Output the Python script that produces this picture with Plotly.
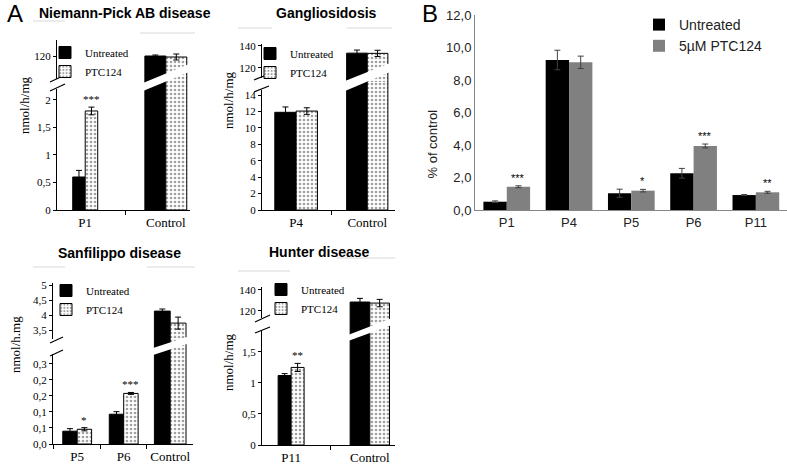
import plotly.graph_objects as go

W, H = 787, 464

# ---------------- data ----------------
# Panel A1: Niemann-Pick AB disease (nmol/h/mg)
np_cats = ["P1", "Control"]
np_untreated = [0.6, 120.0]
np_untreated_err = [0.12, 0.5]
np_ptc = [1.8, 119.5]
np_ptc_err = [0.07, 1.5]
np_stars = ["***", ""]
np_lower_ticks = [0, 0.5, 1, 1.5, 2]
np_lower_text = ["0", "0,5", "1", "1,5", "2"]
np_upper_ticks = [120]
np_upper_text = ["120"]

# Panel A2: Gangliosidosis (nmol/h/mg)
ga_cats = ["P4", "Control"]
ga_untreated = [11.9, 133.5]
ga_untreated_err = [0.65, 2.8]
ga_ptc = [12.05, 133.3]
ga_ptc_err = [0.4, 2.8]
ga_stars = ["", ""]
ga_lower_ticks = [0, 2, 4, 6, 8, 10, 12, 14]
ga_lower_text = ["0", "2", "4", "6", "8", "10", "12", "14"]
ga_upper_ticks = [120, 140]
ga_upper_text = ["120", "140"]

# Panel A3: Sanfilippo disease (nmol/h.mg)
sf_cats = ["P5", "P6", "Control"]
sf_untreated = [0.04, 0.093, 4.13]
sf_untreated_err = [0.008, 0.008, 0.07]
sf_ptc = [0.046, 0.158, 3.73]
sf_ptc_err = [0.005, 0.003, 0.2]
sf_stars = ["*", "***", ""]
sf_lower_ticks = [0, 0.05, 0.10, 0.15, 0.20, 0.25]
sf_lower_text = ["0,0", "0,1", "0,1", "0,2", "0,2", "0,3"]
sf_upper_ticks = [3.5, 4, 4.5, 5]
sf_upper_text = ["3,5", "4", "4,5", "5"]

# Panel A4: Hunter disease (nmol/h/mg)
hu_cats = ["P11", "Control"]
hu_untreated = [1.12, 128.5]
hu_untreated_err = [0.03, 3.5]
hu_ptc = [1.25, 127.5]
hu_ptc_err = [0.065, 3.5]
hu_stars = ["**", ""]
hu_lower_ticks = [0, 0.5, 1, 1.5]
hu_lower_text = ["0", "0,5", "1", "1,5"]
hu_upper_ticks = [120, 140]
hu_upper_text = ["120", "140"]

# Panel B: % of control
b_cats = ["P1", "P4", "P5", "P6", "P11"]
b_untreated = [0.51, 9.23, 1.03, 2.26, 0.92]
b_untreated_err = [0.05, 0.6, 0.25, 0.3, 0.03]
b_ptc = [1.43, 9.09, 1.19, 3.94, 1.09]
b_ptc_err = [0.06, 0.38, 0.08, 0.12, 0.06]
b_stars = ["***", "", "*", "***", "**"]
b_ticks = [0, 2, 4, 6, 8, 10, 12]
b_ticktext = ["0,0", "2,0", "4,0", "6,0", "8,0", "10,0", "12,0"]


def px(x):
    return x / W


def py(y):
    return 1 - y / H


SERIF = "Liberation Serif"
SANS = "Liberation Sans"

fig = go.Figure()
shapes = []
annotations = []
layout_axes = {}

# ---------------- Panel A (broken axes) ----------------
panels = [
    dict(cats=np_cats, u=np_untreated, ue=np_untreated_err, p=np_ptc, pe=np_ptc_err,
         stars=np_stars, lt=np_lower_ticks, ltt=np_lower_text, ut=np_upper_ticks, utt=np_upper_text,
         title="Niemann-Pick AB disease", tx=125, ty=13, ytitle="nmol/h/mg", ytx=25, yty=105,
         xl=57, xr=190, xrange=[-0.35, 1.30], top=40, split=84, bottom=210,
         lrange=[0, 2.29], urange=[106, 128], widths=[0.155, 0.26],
         leg=(45, 38), slash=[(50, 82, 65, 75), (50, 91, 65, 84)], gap=(79, 89),
         band=(143, 189, 83, 91, 64, 72), ax=2,
         grays=[(33, 65, 21), (140, 195, 33)]),
    dict(cats=ga_cats, u=ga_untreated, ue=ga_untreated_err, p=ga_ptc, pe=ga_ptc_err,
         stars=ga_stars, lt=ga_lower_ticks, ltt=ga_lower_text, ut=ga_upper_ticks, utt=ga_upper_text,
         title="Gangliosidosis", tx=326, ty=13, ytitle="nmol/h/mg", ytx=229, yty=100,
         xl=262, xr=395, xrange=[-0.48, 1.39], top=44, split=82, bottom=210,
         lrange=[0, 15.59], urange=[107.27, 141.8], widths=[0.30, 0.29],
         leg=(250, 39), slash=[(254, 80, 269, 74), (254, 92, 269, 86)], gap=(78, 90),
         band=(345, 390, 81, 91, 63, 72), ax=4,
         grays=[(238, 272, 28), (347, 392, 28)]),
    dict(cats=sf_cats, u=sf_untreated, ue=sf_untreated_err, p=sf_ptc, pe=sf_ptc_err,
         stars=sf_stars, lt=sf_lower_ticks, ltt=sf_lower_text, ut=sf_upper_ticks, utt=sf_upper_text,
         title="Sanfilippo disease", tx=119, ty=253, ytitle="nmol/h.mg", ytx=15, yty=345,
         xl=53, xr=193, xrange=[-0.52, 2.49], top=283, split=347, bottom=444,
         lrange=[0, 0.303], urange=[2.933, 5.067], widths=[0.31, 0.31, 0.34],
         leg=(46, 276), slash=[(50, 343, 63, 337), (50, 356, 63, 350)], gap=(339, 354),
         band=(150, 190, 349, 356, 336, 343), ax=6,
         grays=[(33, 65, 267), (147, 195, 267)]),
    dict(cats=hu_cats, u=hu_untreated, ue=hu_untreated_err, p=hu_ptc, pe=hu_ptc_err,
         stars=hu_stars, lt=hu_lower_ticks, ltt=hu_lower_text, ut=hu_upper_ticks, utt=hu_upper_text,
         title="Hunter disease", tx=319, ty=252, ytitle="nmol/h/mg", ytx=228, yty=362,
         xl=262, xr=395, xrange=[-0.37, 1.32], top=287, split=324, bottom=445,
         lrange=[0, 1.95], urange=[107.6, 142.8], widths=[0.165, 0.25],
         leg=(261, 275), slash=[(255, 322, 270, 315), (255, 333, 270, 327)], gap=(318, 331),
         band=(348, 392, 335, 341, 318, 325), ax=8,
         grays=[(238, 290, 271), (337, 395, 258)]),
]

for k, pn in enumerate(panels):
    a_lo = pn["ax"]
    a_hi = pn["ax"] + 1
    leg_name = "legend%d" % (k + 2)
    w = pn["widths"]
    neg_w = [-v for v in w]
    zeros = [0 for _ in w]
    for a, show in ((a_lo, True), (a_hi, False)):
        fig.add_trace(go.Bar(
            x=pn["cats"], y=pn["u"], name="Untreated", legend=leg_name, showlegend=show,
            width=w, offset=neg_w, xaxis="x%d" % a, yaxis="y%d" % a,
            marker=dict(color="black", line=dict(color="black", width=1)),
            error_y=dict(type="data", array=pn["ue"], color="black", thickness=1, width=3),
        ))
        fig.add_trace(go.Bar(
            x=pn["cats"], y=pn["p"], name="PTC124", legend=leg_name, showlegend=show,
            width=w, offset=zeros, xaxis="x%d" % a, yaxis="y%d" % a,
            marker=dict(color="white", line=dict(color="black", width=1),
                        pattern=dict(shape=".", fgcolor="#444444", bgcolor="white",
                                     size=4, solidity=0.35)),
            error_y=dict(type="data", array=pn["pe"], color="black", thickness=1, width=3),
        ))
    dom_x = [px(pn["xl"]), px(pn["xr"])]
    tickfont = dict(family=SERIF, size=11, color="black")
    layout_axes["xaxis%d" % a_lo] = dict(
        domain=dom_x, anchor="y%d" % a_lo, type="category", range=pn["xrange"],
        showline=True, linecolor="black", linewidth=1, ticks="outside", ticklen=4,
        tickson="boundaries", tickcolor="black", showgrid=False, zeroline=False,
        tickfont=dict(family=SERIF, size=13, color="black"))
    layout_axes["xaxis%d" % a_hi] = dict(
        domain=dom_x, anchor="y%d" % a_hi, type="category", range=pn["xrange"],
        visible=False, showgrid=False, zeroline=False)
    layout_axes["yaxis%d" % a_lo] = dict(
        domain=[py(pn["bottom"]), py(pn["split"])], anchor="x%d" % a_lo,
        range=pn["lrange"], tickvals=pn["lt"], ticktext=pn["ltt"],
        showline=True, linecolor="black", linewidth=1, ticks="outside", ticklen=3,
        tickcolor="black", showgrid=False, zeroline=False, tickfont=tickfont)
    layout_axes["yaxis%d" % a_hi] = dict(
        domain=[py(pn["split"]), py(pn["top"])], anchor="x%d" % a_hi,
        range=pn["urange"], tickvals=pn["ut"], ticktext=pn["utt"],
        showline=True, linecolor="black", linewidth=1, ticks="outside", ticklen=3,
        tickcolor="black", showgrid=False, zeroline=False, tickfont=tickfont)

    # legend
    layout_axes[leg_name] = dict(
        x=px(pn["leg"][0]), y=py(pn["leg"][1]), xanchor="left", yanchor="top",
        bgcolor="rgba(0,0,0,0)", font=dict(family=SERIF, size=11, color="black"),
        itemwidth=30, tracegroupgap=0)

    # white break band over the control bars
    x1, x2, yl_t, yl_b, yr_t, yr_b = pn["band"]
    shapes.append(dict(
        type="path", xref="paper", yref="paper", layer="above",
        path="M %f,%f L %f,%f L %f,%f L %f,%f Z" % (
            px(x1), py(yl_t), px(x2), py(yr_t), px(x2), py(yr_b), px(x1), py(yl_b)),
        fillcolor="white", line=dict(width=0)))
    # gap in the y axis
    shapes.append(dict(type="rect", xref="paper", yref="paper", layer="above",
                       x0=px(pn["xl"] - 3), x1=px(pn["xl"] + 3),
                       y0=py(pn["gap"][1]), y1=py(pn["gap"][0]),
                       fillcolor="white", line=dict(width=0)))
    for (sx0, sy0, sx1, sy1) in pn["slash"]:
        shapes.append(dict(type="line", xref="paper", yref="paper", layer="above",
                           x0=px(sx0), y0=py(sy0), x1=px(sx1), y1=py(sy1),
                           line=dict(color="black", width=1.2)))
    for (gx0, gx1, gy) in pn["grays"]:
        shapes.append(dict(type="line", xref="paper", yref="paper", layer="below",
                           x0=px(gx0), y0=py(gy), x1=px(gx1), y1=py(gy),
                           line=dict(color="#d8d8d8", width=1)))

    # significance stars
    for i, s in enumerate(pn["stars"]):
        if s:
            annotations.append(dict(
                x=i + w[i] / 2, y=pn["p"][i] + pn["pe"][i], xref="x%d" % a_lo, yref="y%d" % a_lo,
                text=s, showarrow=False, yanchor="bottom", yshift=0,
                font=dict(family=SERIF, size=11, color="black")))
    # titles
    annotations.append(dict(x=px(pn["tx"]), y=py(pn["ty"]), xref="paper", yref="paper",
                            text="<b>%s</b>" % pn["title"], showarrow=False,
                            xanchor="center", yanchor="middle",
                            font=dict(family=SANS, size=14, color="black")))
    annotations.append(dict(x=px(pn["ytx"]), y=py(pn["yty"]), xref="paper", yref="paper",
                            text=pn["ytitle"], showarrow=False, textangle=-90,
                            xanchor="center", yanchor="middle",
                            font=dict(family=SERIF, size=13, color="black")))

# ---------------- Panel B ----------------
bw = 0.375
fig.add_trace(go.Bar(
    x=b_cats, y=b_untreated, name="Untreated", legend="legend",
    width=bw, offset=-bw, xaxis="x", yaxis="y",
    marker=dict(color="black", line=dict(width=0)),
    error_y=dict(type="data", array=b_untreated_err, color="#404040", thickness=1, width=3),
))
fig.add_trace(go.Bar(
    x=b_cats, y=b_ptc, name="5µM PTC124", legend="legend",
    width=bw, offset=0, xaxis="x", yaxis="y",
    marker=dict(color="#808080", line=dict(width=0)),
    error_y=dict(type="data", array=b_ptc_err, color="#404040", thickness=1, width=3),
))
for i, s in enumerate(b_stars):
    if s:
        annotations.append(dict(
            x=i + bw / 2, y=b_ptc[i] + b_ptc_err[i], xref="x", yref="y",
            text=s, showarrow=False, yanchor="bottom",
            font=dict(family=SANS, size=11, color="black")))

layout_axes["xaxis"] = dict(
    domain=[px(475), px(787)], anchor="y", type="category", range=[-0.51, 4.5],
    showline=True, linecolor="#868686", linewidth=1, ticks="", showgrid=False,
    zeroline=False, tickfont=dict(family=SANS, size=13, color="#222222"))
layout_axes["yaxis"] = dict(
    domain=[py(210), py(15)], anchor="x", range=[0, 12], tickvals=b_ticks,
    ticktext=b_ticktext, showline=True, linecolor="#868686", linewidth=1,
    ticks="", showgrid=False, zeroline=False,
    tickfont=dict(family=SANS, size=13, color="#222222"))
layout_axes["legend"] = dict(
    x=px(639), y=py(9), xanchor="left", yanchor="top", bgcolor="rgba(0,0,0,0)",
    font=dict(family=SANS, size=14, color="#222222"), itemwidth=30, tracegroupgap=0)

annotations.append(dict(x=px(432), y=py(108), xref="paper", yref="paper",
                        text="% of control", showarrow=False, textangle=-90,
                        font=dict(family=SANS, size=13, color="#222222")))
annotations.append(dict(x=px(15), y=py(14), xref="paper", yref="paper", text="A",
                        showarrow=False, xanchor="center", yanchor="middle",
                        font=dict(family=SANS, size=24, color="black")))
annotations.append(dict(x=px(430), y=py(13), xref="paper", yref="paper", text="B",
                        showarrow=False, xanchor="center", yanchor="middle",
                        font=dict(family=SANS, size=24, color="black")))

fig.update_layout(
    width=W, height=H, margin=dict(l=0, r=0, t=0, b=0, autoexpand=False),
    paper_bgcolor="white", plot_bgcolor="white",
    barmode="overlay", showlegend=True,
    shapes=shapes, annotations=annotations, **layout_axes)

fig.write_html("out.html", config={"displayModeBar": False},
               post_script="document.body.style.margin='0';")
